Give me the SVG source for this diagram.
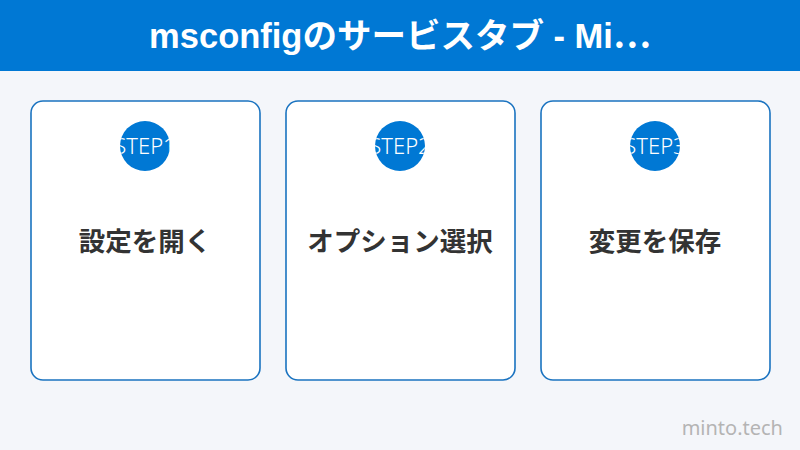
<svg xmlns="http://www.w3.org/2000/svg" width="800" height="450" viewBox="0 0 800 450">
<style>
.card{fill:#ffffff;stroke:#1a73c0;stroke-width:1.6}
.badge{fill:#0078d4}
.step{fill:#ffffff;font-family:"Noto Sans","Noto Sans CJK JP",sans-serif;font-size:22px;font-weight:300;text-anchor:middle}
.label{fill:#333333;font-family:"Noto Sans CJK JP","Noto Sans",sans-serif;font-size:26.5px;font-weight:bold;text-anchor:middle}
</style>
<defs>
<clipPath id="c1"><circle cx="145" cy="146" r="25"/></clipPath>
<clipPath id="c2"><circle cx="400" cy="146" r="25"/></clipPath>
<clipPath id="c3"><circle cx="655" cy="146" r="25"/></clipPath>
</defs>
<rect width="800" height="450" fill="#f4f6fa"/>
<g id="header">
<rect x="0" y="0" width="800" height="71" fill="#0078d4"/>
<text x="400" y="48" fill="#ffffff" font-family="'Liberation Sans','Noto Sans CJK JP',sans-serif" font-size="34.5" font-weight="bold" text-anchor="middle">msconfigのサービスタブ - Mi<tspan font-family="'Noto Sans CJK JP',sans-serif">…</tspan></text>
</g>
<g id="step1">
<rect class="card" x="31" y="101" width="229" height="279" rx="12"/>
<circle class="badge" cx="145" cy="146" r="25"/>
<text class="step" x="145" y="154" clip-path="url(#c1)">STEP1</text>
<text class="label" x="145" y="251">設定を開く</text>
</g>
<g id="step2">
<rect class="card" x="286" y="101" width="229" height="279" rx="12"/>
<circle class="badge" cx="400" cy="146" r="25"/>
<text class="step" x="400" y="154" clip-path="url(#c2)">STEP2</text>
<text class="label" x="400" y="251">オプション選択</text>
</g>
<g id="step3">
<rect class="card" x="541" y="101" width="229" height="279" rx="12"/>
<circle class="badge" cx="655" cy="146" r="25"/>
<text class="step" x="655" y="154" clip-path="url(#c3)">STEP3</text>
<text class="label" x="655" y="251">変更を保存</text>
</g>
<g id="connectors"/>
<text x="783" y="435" fill="#b4b4b4" font-family="'Noto Sans',sans-serif" font-size="20" text-anchor="end">minto.tech</text>
</svg>
